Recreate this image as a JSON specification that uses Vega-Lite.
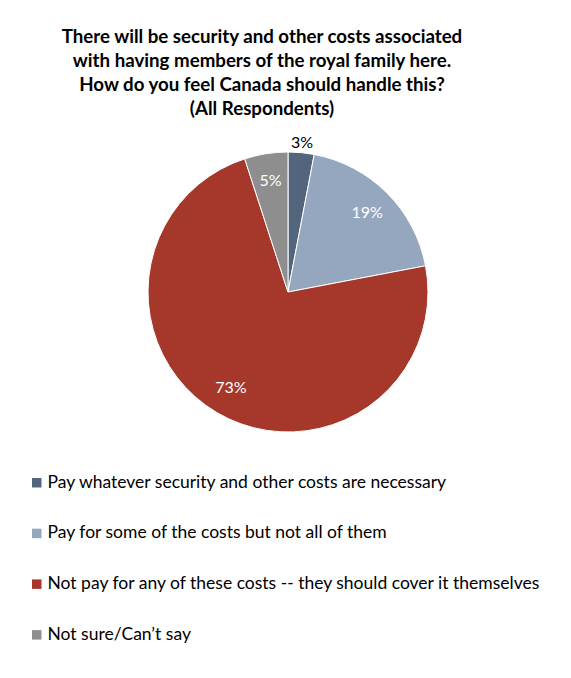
{
  "$schema": "https://vega.github.io/schema/vega-lite/v6.json",
  "width": 280,
  "height": 280,
  "autosize": "none",
  "padding": {"left": 148, "top": 152, "right": 143, "bottom": 246},
  "background": "white",
  "title": {
    "text": ["There will be security and other costs associated", "with having members of the royal family here.", "How do you feel Canada should handle this?", "(All Respondents)"],
    "font": "Lato",
    "fontWeight": "bold",
    "fontSize": 18.7,
    "lineHeight": 24,
    "color": "#000000",
    "anchor": "middle",
    "dx": -26,
    "offset": 16
  },
  "data": {
    "values": [
      {"answer": "Pay whatever security and other costs are necessary", "pct": 0.03, "rank": 1},
      {"answer": "Pay for some of the costs but not all of them", "pct": 0.19, "rank": 2},
      {"answer": "Not pay for any of these costs -- they should cover it themselves", "pct": 0.73, "rank": 3},
      {"answer": "Not sure/Can’t say", "pct": 0.05, "rank": 4}
    ]
  },
  "encoding": {
    "theta": {"field": "pct", "type": "quantitative", "stack": true},
    "order": {"field": "rank", "type": "quantitative", "sort": "ascending"}
  },
  "layer": [
    {
      "mark": {"type": "arc", "outerRadius": 140, "stroke": "white", "strokeWidth": 1},
      "encoding": {
        "color": {
          "field": "answer",
          "type": "nominal",
          "sort": null,
          "scale": {
            "domain": ["Pay whatever security and other costs are necessary", "Pay for some of the costs but not all of them", "Not pay for any of these costs -- they should cover it themselves", "Not sure/Can’t say"],
            "range": ["#53657D", "#95A6BF", "#A5382B", "#8E8E8E"]
          },
          "legend": {
            "orient": "none",
            "legendX": -120,
            "legendY": 322,
            "title": null,
            "direction": "vertical",
            "symbolType": "square",
            "symbolSize": 90,
            "symbolStrokeWidth": 0,
            "labelFont": "Lato",
            "labelFontSize": 17.5,
            "labelColor": "#000000",
            "labelLimit": 600,
            "labelOffset": 2,
            "rowPadding": 31.7
          }
        }
      }
    },
    {
      "mark": {"type": "text", "radius": 112, "font": "Lato", "fontSize": 16, "color": "white"},
      "encoding": {
        "text": {"field": "pct", "type": "quantitative", "format": ".0%"},
        "opacity": {"condition": {"test": "datum.rank == 1", "value": 0}, "value": 1}
      }
    },
    {
      "mark": {"type": "text", "radius": 150, "font": "Lato", "fontSize": 16, "color": "black"},
      "encoding": {
        "text": {"field": "pct", "type": "quantitative", "format": ".0%"},
        "opacity": {"condition": {"test": "datum.rank == 1", "value": 1}, "value": 0}
      }
    }
  ]
}
